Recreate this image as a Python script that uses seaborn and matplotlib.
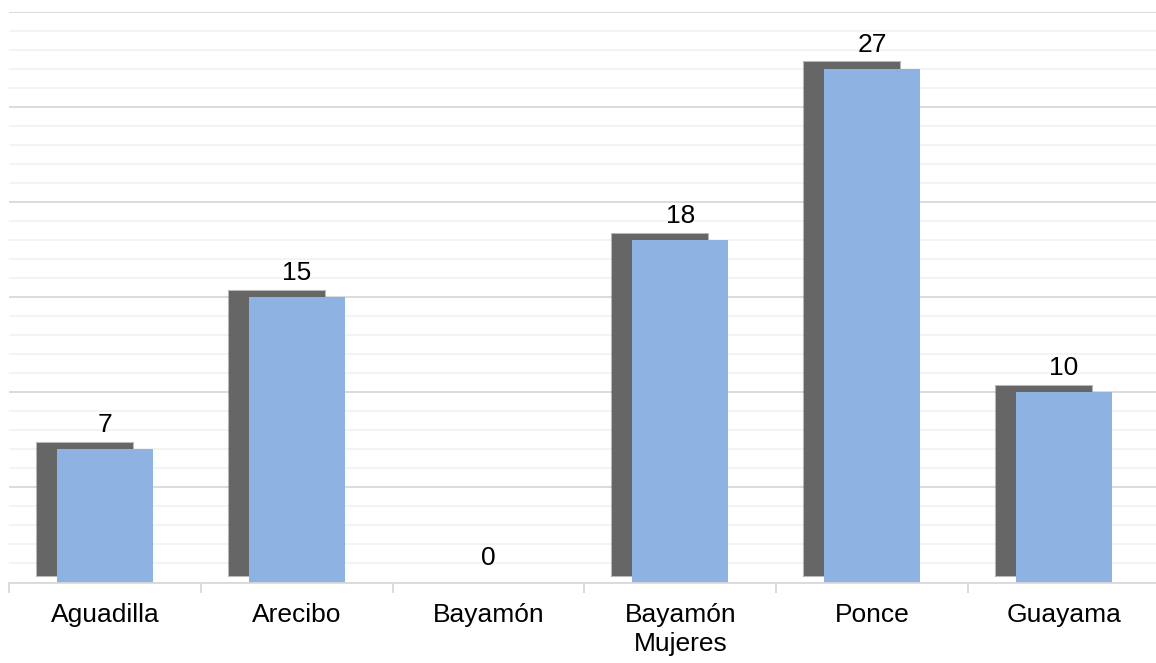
import numpy as np
import pandas as pd
import seaborn as sns
import matplotlib.pyplot as plt
from matplotlib.transforms import offset_copy
from matplotlib.ticker import MultipleLocator, FixedLocator

categories = ["Aguadilla", "Arecibo", "Bayamón", "Bayamón\nMujeres", "Ponce", "Guayama"]
values = [7, 15, 0, 18, 27, 10]

df = pd.DataFrame({"Institución": categories, "Casos": values})

sns.set_style("white")
plt.rcParams["font.family"] = ["Liberation Sans", "DejaVu Sans"]

fig = plt.figure(figsize=(11.56, 6.63), dpi=100)
ax = fig.add_axes([9 / 1156, 1 - 582.5 / 663, 1151 / 1156, 570.5 / 663])

# shadow bars (shifted left and up)
sns.barplot(data=df, x="Institución", y="Casos", color="#666666", width=0.5,
            saturation=1, linewidth=0, ax=ax)
shadow_tr = offset_copy(ax.transData, fig=fig, x=-20, y=6.7, units="dots")
for p in ax.patches:
    p.set_transform(shadow_tr)
    if p.get_height() > 0:
        p.set_edgecolor((0.4, 0.4, 0.4, 0.45))
        p.set_linewidth(1.5)
n_shadow = len(ax.containers)

sns.barplot(data=df, x="Institución", y="Casos", color="#8EB2E2", width=0.5,
            saturation=1, linewidth=0, ax=ax)
ax.bar_label(ax.containers[n_shadow], labels=[str(v) for v in values],
             padding=9, fontsize=19, color="black")

ax.set_ylim(0, 30)
ax.set_xlim(-0.5, 5.5)
ax.yaxis.set_major_locator(MultipleLocator(5))
ax.yaxis.set_minor_locator(MultipleLocator(1))
ax.grid(which="major", axis="y", color="#D9D9D9", linewidth=1.3)
ax.grid(which="minor", axis="y", color="#F2F2F2", linewidth=1.3)
ax.set_axisbelow(True)
ax.set_yticklabels([])
ax.tick_params(axis="y", which="both", length=0)

ax.xaxis.set_minor_locator(FixedLocator(np.arange(-0.5, 6, 1)))
ax.tick_params(axis="x", which="minor", length=7, width=1.3, color="#D9D9D9",
               direction="out", bottom=True)
ax.tick_params(axis="x", which="major", length=0, pad=15, labelsize=19,
               labelcolor="black")
for lbl in ax.get_xticklabels():
    lbl.set_linespacing(1.22)

ax.set_xlabel("")
ax.set_ylabel("")
for s in ["top", "left", "right"]:
    ax.spines[s].set_visible(False)
ax.spines["bottom"].set_color("#D9D9D9")
ax.spines["bottom"].set_linewidth(1.3)

fig.savefig("out.png", dpi=100)
